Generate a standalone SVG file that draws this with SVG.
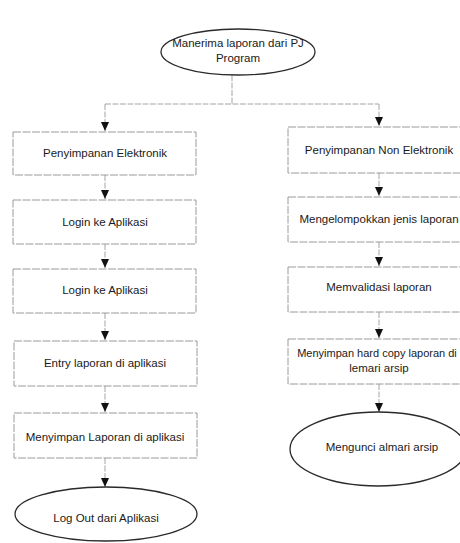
<svg xmlns="http://www.w3.org/2000/svg" width="460" height="543" viewBox="0 0 460 543">
<style>
.box{fill:#fff;stroke:#8f8f8f;stroke-width:0.9;stroke-dasharray:8 1.5}
.ell{fill:#fff;stroke:#2a2a2a;stroke-width:1.3}
.t{font-family:"Liberation Sans",Arial,sans-serif;font-size:11.5px;fill:#1a1a1a;text-anchor:middle}
.c{fill:none;stroke:#9a9a9a;stroke-width:0.9;stroke-dasharray:6 1.5}
</style>
<defs>
<marker id="ah" viewBox="0 0 9 8" refX="9" refY="4" markerWidth="9" markerHeight="8" markerUnits="userSpaceOnUse" orient="auto">
<path d="M0,0 L9,4 L0,8 Z" fill="#111"/>
</marker>
</defs>
<rect width="460" height="543" fill="#fff"/>
<g id="connectors">
<path class="c" d="M232,75 V104 M105,104 H379"/>
<path class="c" d="M105,104 V131" marker-end="url(#ah)"/>
<path class="c" d="M379,104 V126" marker-end="url(#ah)"/>
<path class="c" d="M105,175 V199" marker-end="url(#ah)"/>
<path class="c" d="M105,244 V268" marker-end="url(#ah)"/>
<path class="c" d="M105,313 V340" marker-end="url(#ah)"/>
<path class="c" d="M105,386 V412" marker-end="url(#ah)"/>
<path class="c" d="M105,458 V487" marker-end="url(#ah)"/>
<path class="c" d="M379,173 V196" marker-end="url(#ah)"/>
<path class="c" d="M379,242 V266" marker-end="url(#ah)"/>
<path class="c" d="M379,312 V338" marker-end="url(#ah)"/>
<path class="c" d="M379,384 V412" marker-end="url(#ah)"/>
</g>
<g id="start">
<ellipse class="ell" cx="238" cy="52" rx="77" ry="23"/>
<text class="t" x="238" y="47">Manerima laporan dari PJ</text>
<text class="t" x="238" y="62">Program</text>
</g>
<g id="l1"><rect class="box" x="13" y="132" width="183" height="43"/><text class="t" x="105" y="157">Penyimpanan Elektronik</text></g>
<g id="l2"><rect class="box" x="13" y="200" width="183" height="44"/><text class="t" x="105" y="226">Login ke Aplikasi</text></g>
<g id="l3"><rect class="box" x="13" y="269" width="183" height="44"/><text class="t" x="105" y="294">Login ke Aplikasi</text></g>
<g id="l4"><rect class="box" x="14" y="341" width="183" height="45"/><text class="t" x="105" y="367">Entry laporan di aplikasi</text></g>
<g id="l5"><rect class="box" x="14" y="413" width="183" height="45"/><text class="t" x="105" y="441">Menyimpan Laporan di aplikasi</text></g>
<g id="l6"><ellipse class="ell" cx="106" cy="514" rx="91" ry="27"/><text class="t" x="106" y="522">Log Out dari Aplikasi</text></g>
<g id="r1"><rect class="box" x="288" y="127" width="182" height="46"/><text class="t" x="379" y="154">Penyimpanan Non Elektronik</text></g>
<g id="r2"><rect class="box" x="288" y="197" width="182" height="45"/><text class="t" x="379" y="223">Mengelompokkan jenis laporan</text></g>
<g id="r3"><rect class="box" x="288" y="267" width="182" height="45"/><text class="t" x="379" y="291">Memvalidasi laporan</text></g>
<g id="r4"><rect class="box" x="288" y="339" width="182" height="45"/><text class="t" x="377" y="357" style="font-size:11px">Menyimpan hard copy laporan di</text><text class="t" x="379" y="372">lemari arsip</text></g>
<g id="r5"><ellipse class="ell" cx="378" cy="449" rx="88" ry="37"/><text class="t" x="382" y="451">Mengunci almari arsip</text></g>
</svg>
